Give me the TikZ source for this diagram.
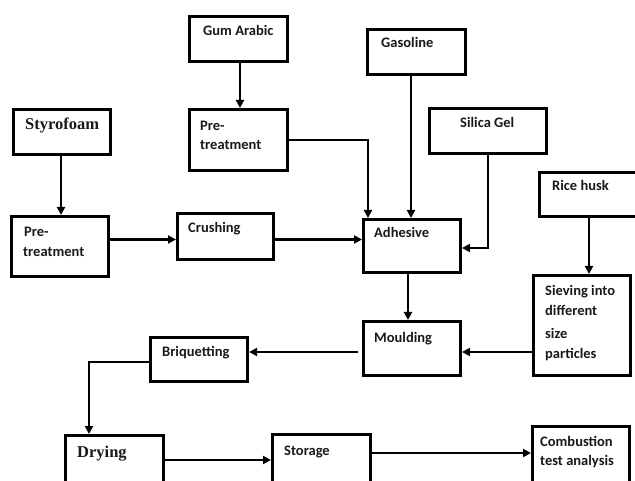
\documentclass[tikz,border=0pt]{standalone}
\usepackage{fontspec}
\setmainfont{Carlito}
\newfontfamily\serifb{Liberation Serif}
\usetikzlibrary{arrows.meta,calc}
\tikzset{
  box/.style={draw=black, line width=2.8pt, inner sep=0pt, fill=white},
  lbl/.style={anchor=base west, inner sep=0pt, font=\fontsize{14.5}{20}\selectfont\bfseries, text=black!90},
  slbl/.style={anchor=base west, inner sep=0pt, font=\fontsize{16.5}{20}\selectfont\serifb\bfseries, text=black!90},
  arr/.style={line width=2.6pt, -{Triangle[length=8pt,width=8pt]}}
}
\newcommand{\bx}[5]{\node[box, minimum width={(#4-#2-2.8)*1pt}, minimum height={(#5-#3-2.8)*1pt}] (#1) at ({(#2+#4)/2},{(#3+#5)/2}) {};}
\begin{document}
\begin{tikzpicture}[x=1pt,y=-1pt]
\clip (0,0) rectangle (635,481);
\fill[white] (0,0) rectangle (635,481);
% boxes
\bx{gum}{188}{15}{289}{63}
\bx{gumpre}{188}{108}{289}{172}
\bx{styro}{12}{108}{112}{156}
\bx{styropre}{10}{215}{110}{278}
\bx{crush}{176}{212}{275}{261}
\bx{gas}{366}{28}{467}{76}
\bx{silica}{428}{107}{548}{155}
\bx{rice}{538}{171}{640}{218}
\bx{adhesive}{362}{218}{462}{274}
\bx{sieve}{532}{274}{632}{377}
\bx{mould}{362}{320}{462}{377}
\bx{briq}{149}{336}{249}{383}
\bx{drying}{64}{434}{165}{500}
\bx{storage}{271}{433}{372}{500}
\bx{comb}{531}{425}{631}{500}
% texts
\node[lbl] (tgum) at (203,36) {Gum Arabic};
\node[lbl] (tgp1) at (200,131) {Pre-};
\node[lbl] (tgp2) at (200,150) {treatment};
\node[slbl] (tsty) at (25,130) {Styrofoam};
\node[lbl] (tsp1) at (24,237) {Pre-};
\node[lbl] (tsp2) at (23,257) {treatment};
\node[lbl] (tcru) at (188,233) {Crushing};
\node[lbl] (tgas) at (381,48) {Gasoline};
\node[lbl] (tsil) at (460,128) {Silica Gel};
\node[lbl] (tric) at (552,191) {Rice husk};
\node[lbl] (tadh) at (374,238) {Adhesive};
\node[lbl] (tsv1) at (545,296) {Sieving into};
\node[lbl] (tsv2) at (545,316) {different};
\node[lbl] (tsv3) at (545,338) {size};
\node[lbl] (tsv4) at (545,359) {particles};
\node[lbl] (tmou) at (374,342) {Moulding};
\node[lbl] (tbri) at (162,356) {Briquetting};
\node[slbl] (tdry) at (77,457) {Drying};
\node[lbl] (tsto) at (284,455) {Storage};
\node[lbl] (tco1) at (540,446) {Combustion};
\node[lbl] (tco2) at (540,465) {test analysis};
% connectors
\draw[arr] ([xshift=1.5pt]gum.south) -- ([xshift=1.5pt]gum.south |- gumpre.north);
\draw[arr] (gumpre.east) -| ([xshift=6pt]adhesive.north west);
\draw[arr] ([xshift=-5.5pt]gas.south) -- ([xshift=-5.5pt]gas.south |- adhesive.north);
\draw[arr] (silica.south) |- ([yshift=-2pt]adhesive.east);
\draw[arr] (rice.south) -- (rice.south |- sieve.north);
\draw[arr] ([xshift=-1pt]styro.south) -- ([xshift=-1pt]styro.south |- styropre.north);
\draw[arr] (styropre.east |- 0,239.5) -- (crush.west |- 0,239.5);
\draw[arr] (crush.east |- 0,239.5) -- (adhesive.west |- 0,239.5);
\draw[arr] ([xshift=-4pt]adhesive.south) -- ([xshift=-4pt]adhesive.south |- mould.north);
\draw[arr] (sieve.west |- 0,352) -- (mould.east |- 0,352);
\draw[arr] (358,352) -- (briq.east |- 0,352);
\draw[arr] (briq.west |- 0,362) -| ([xshift=25pt]drying.north west);
\draw[arr] (drying.east |- 0,460) -- (storage.west |- 0,460);
\draw[arr] (storage.east |- 0,453) -- (comb.west |- 0,453);
\end{tikzpicture}
\end{document}
